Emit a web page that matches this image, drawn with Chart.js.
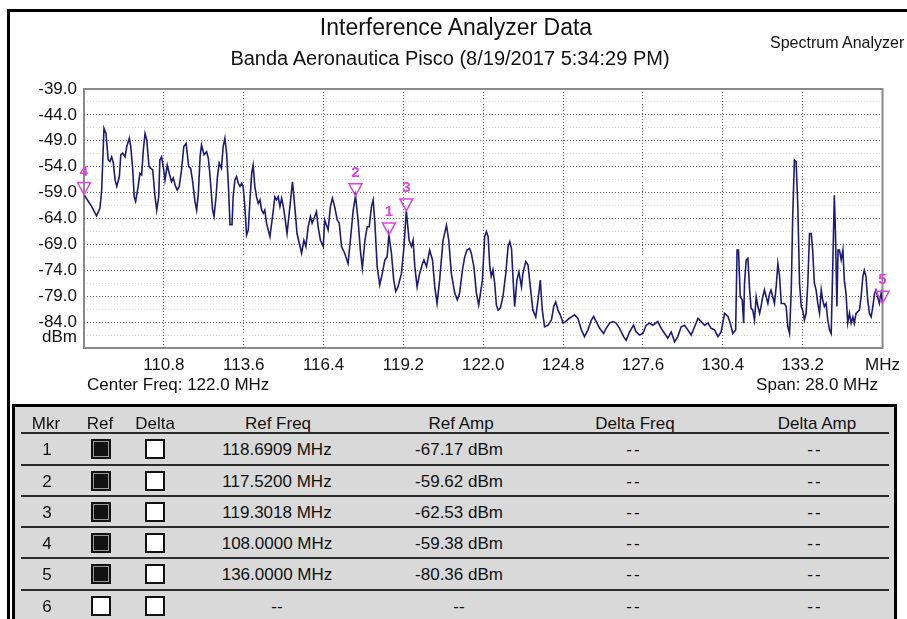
<!DOCTYPE html>
<html>
<head>
<meta charset="utf-8">
<script src="https://cdn.jsdelivr.net/npm/chart.js@4.4.1/dist/chart.umd.min.js"></script>
<style>
html,body{margin:0;padding:0;background:#fff;}
body{width:907px;height:619px;position:relative;overflow:hidden;font-family:"Liberation Sans",Arial,sans-serif;color:#111;}
#frame{position:absolute;left:7px;top:9px;width:940px;height:700px;border-left:3px solid #000;border-top:3px solid #000;}
#c{position:absolute;left:0;top:0;}
.txt{position:absolute;white-space:nowrap;line-height:1;}
.ctr{transform:translate(-50%,-50%);}
.mid{transform:translateY(-50%);}
#tbl{position:absolute;left:12px;top:404px;width:879px;height:260px;border:3px solid #000;background:#d9d9d9;}
.hline{position:absolute;height:2px;background:#2a2a2a;}
.cell{position:absolute;white-space:nowrap;line-height:1;transform:translate(-50%,-50%);font-size:17px;color:#111;}
.box{position:absolute;width:16px;height:16px;border:2px solid #111;background:#fff;transform:translate(-50%,-50%);}
.box.on{background:#111;box-shadow:inset 0 0 0 1px #9a9a9a;}
</style>
</head>
<body>
<div id="frame"></div>
<canvas id="c" width="907" height="400"></canvas>
<div class="txt ctr" style="left:456px;top:27px;font-size:23px;">Interference Analyzer Data</div>
<div class="txt ctr" style="left:450px;top:58px;font-size:20px;">Banda Aeronautica Pisco (8/19/2017 5:34:29 PM)</div>
<div class="txt mid" style="left:770px;top:43px;font-size:16px;">Spectrum Analyzer</div>
<div class="txt mid" style="right:830px;top:336px;font-size:17px;">dBm</div>
<div class="txt mid" style="left:87px;top:384px;font-size:17px;">Center Freq: 122.0 MHz</div>
<div class="txt mid" style="right:29px;top:384px;font-size:17px;">Span: 28.0 MHz</div>
<div id="tbl"></div>
<div id="cells"></div>
<script>
// ---- spectrum trace (MHz, dBm) ----
const traceFreq = [
108.00,108.27,108.44,108.56,108.62,108.70,108.77,108.85,108.91,108.97,109.03,109.09,109.15,109.24,109.29,109.36,109.44,109.50,109.59,109.64,
109.71,109.76,109.81,109.90,109.96,110.02,110.08,110.14,110.20,110.28,110.34,110.41,110.49,110.55,110.62,110.66,110.72,110.78,110.84,110.92,
110.99,111.07,111.13,111.21,111.27,111.34,111.42,111.50,111.58,111.62,111.67,111.74,111.81,111.89,111.95,112.01,112.07,112.12,112.21,112.30,
112.36,112.42,112.51,112.56,112.63,112.68,112.74,112.82,112.88,112.94,113.00,113.06,113.12,113.19,113.23,113.29,113.35,113.41,113.47,113.53,
113.58,113.64,113.70,113.76,113.82,113.88,113.93,113.99,114.05,114.11,114.17,114.23,114.29,114.34,114.40,114.46,114.52,114.58,114.64,114.69,
114.75,114.81,114.87,114.93,114.99,115.04,115.12,115.22,115.31,115.39,115.47,115.63,115.71,115.78,115.86,115.94,116.00,116.09,116.15,116.21,
116.29,116.39,116.44,116.56,116.64,116.71,116.79,116.88,116.95,117.03,117.14,117.26,117.34,117.44,117.52,117.61,117.69,117.76,117.85,117.93,
118.00,118.08,118.14,118.20,118.28,118.37,118.46,118.55,118.63,118.6909,118.78,118.86,118.93,119.01,119.13,119.21,119.3018,119.40,119.48,119.54,
119.60,119.68,119.77,119.87,119.92,120.01,120.12,120.22,120.30,120.38,120.47,120.59,120.71,120.79,120.88,121.00,121.09,121.17,121.27,121.35,
121.43,121.52,121.58,121.67,121.76,121.84,121.97,122.05,122.11,122.17,122.23,122.28,122.34,122.40,122.46,122.52,122.60,122.69,122.79,122.87,
122.93,122.99,123.04,123.10,123.18,123.25,123.34,123.39,123.49,123.57,123.65,123.74,123.84,123.92,124.00,124.07,124.15,124.27,124.39,124.47,
124.54,124.62,124.70,124.80,124.89,125.01,125.12,125.20,125.32,125.44,125.55,125.67,125.79,125.87,125.96,126.08,126.22,126.31,126.43,126.55,
126.66,126.78,126.92,127.01,127.13,127.27,127.36,127.48,127.60,127.71,127.83,127.95,128.12,128.24,128.36,128.47,128.59,128.71,128.82,128.94,
129.06,129.17,129.29,129.41,129.53,129.64,129.76,129.88,129.99,130.11,130.23,130.34,130.46,130.58,130.66,130.75,130.85,130.90,130.95,131.01,
131.08,131.13,131.16,131.22,131.28,131.34,131.39,131.45,131.51,131.57,131.63,131.69,131.74,131.80,131.86,131.92,131.98,132.04,132.09,132.15,
132.21,132.27,132.33,132.39,132.45,132.56,132.62,132.68,132.74,132.80,132.85,132.91,132.97,133.03,133.09,133.15,133.20,133.26,133.32,133.38,
133.44,133.50,133.55,133.61,133.67,133.73,133.79,133.85,133.90,133.96,134.02,134.08,134.14,134.20,134.26,134.31,134.35,134.40,134.44,134.49,
134.55,134.61,134.66,134.72,134.78,134.84,134.90,134.96,135.01,135.07,135.19,135.25,135.31,135.36,135.42,135.48,135.54,135.60,135.66,135.72,
135.77,135.83,135.89,135.95,136.00
];
const traceAmp = [
-59.4,-61.7,-63.5,-62.0,-58.5,-46.6,-47.6,-52.7,-53.0,-52.1,-53.3,-56.6,-57.8,-55.9,-51.7,-51.4,-52.1,-50.1,-48.5,-50.1,
-54.6,-59.8,-60.7,-57.8,-55.3,-55.6,-50.8,-47.6,-48.8,-54.0,-54.3,-54.6,-59.8,-62.4,-59.8,-52.7,-52.1,-54.0,-56.6,-53.7,
-55.3,-56.9,-56.2,-57.8,-58.5,-57.8,-54.6,-50.1,-49.5,-51.4,-54.0,-54.3,-56.9,-60.7,-62.4,-59.1,-52.1,-49.8,-51.7,-51.1,
-52.4,-55.9,-62.4,-63.6,-59.8,-55.9,-53.3,-54.3,-50.1,-48.5,-51.4,-57.2,-65.2,-65.2,-59.8,-56.6,-55.9,-57.2,-57.8,-57.2,
-57.8,-61.7,-67.2,-66.2,-60.4,-55.3,-53.7,-57.8,-59.8,-61.1,-60.4,-62.4,-63.0,-62.4,-64.9,-66.2,-67.5,-64.9,-62.4,-59.8,
-60.4,-59.8,-61.7,-60.1,-61.7,-63.6,-66.9,-61.7,-56.9,-61.7,-66.9,-70.7,-68.2,-69.4,-65.6,-63.6,-64.9,-63.6,-62.7,-65.6,
-68.2,-69.4,-64.3,-66.2,-61.7,-60.1,-61.7,-64.3,-64.9,-69.4,-70.7,-72.7,-68.2,-62.4,-59.62,-64.3,-70.1,-73.6,-68.2,-65.6,
-65.6,-61.7,-60.4,-64.9,-73.3,-76.8,-74.6,-72.0,-71.4,-67.17,-70.7,-75.9,-78.1,-77.2,-74.6,-70.1,-62.53,-68.2,-69.4,-68.2,
-73.3,-77.2,-74.6,-72.7,-72.0,-73.3,-70.1,-72.0,-77.2,-80.4,-75.9,-68.2,-65.3,-68.2,-74.6,-78.4,-79.7,-78.4,-73.9,-71.4,
-70.1,-69.8,-70.7,-73.3,-78.4,-80.7,-75.9,-67.5,-66.5,-67.5,-73.3,-75.2,-73.9,-76.5,-80.7,-81.7,-81.3,-79.1,-74.6,-69.4,
-68.5,-69.8,-75.2,-81.0,-75.9,-74.3,-77.2,-74.6,-72.3,-73.0,-77.2,-81.7,-83.0,-79.7,-75.9,-81.7,-84.9,-84.6,-83.6,-81.0,
-80.1,-81.7,-82.6,-84.2,-83.9,-83.3,-82.9,-82.6,-83.3,-85.5,-86.8,-85.5,-83.6,-82.9,-83.9,-85.2,-86.2,-85.2,-84.2,-83.9,
-84.2,-85.2,-86.8,-87.5,-85.9,-84.6,-85.9,-86.5,-86.2,-84.6,-84.2,-84.6,-83.9,-85.2,-86.2,-87.1,-85.9,-87.8,-86.8,-84.9,
-84.6,-85.5,-86.5,-84.9,-83.3,-83.9,-84.6,-84.2,-85.2,-85.5,-86.8,-85.9,-82.3,-82.9,-84.2,-86.2,-85.5,-70.1,-70.1,-79.1,
-79.7,-84.2,-76.5,-72.0,-71.7,-77.8,-81.3,-81.7,-83.6,-79.1,-81.0,-82.3,-81.0,-79.1,-77.8,-79.1,-80.4,-78.5,-77.8,-79.1,
-80.4,-77.2,-72.7,-75.2,-80.4,-80.4,-81.0,-84.9,-86.2,-77.8,-63.6,-52.7,-53.0,-61.7,-76.5,-81.0,-81.7,-83.6,-82.3,-76.5,
-66.9,-66.9,-70.1,-76.5,-77.8,-80.4,-82.3,-77.8,-79.7,-81.0,-80.4,-83.6,-85.5,-86.2,-72.0,-59.5,-66.9,-81.0,-70.1,-70.1,
-72.0,-70.1,-75.9,-78.5,-84.2,-82.3,-84.2,-83.0,-84.2,-82.3,-81.7,-79.1,-75.2,-74.0,-75.2,-79.7,-82.3,-83.0,-81.0,-78.5,
-77.8,-79.1,-80.4,-78.5,-80.36
];

// ---- markers ----
const markerIds   = ['1', '2', '3', '4', '5'];
const markerFreq  = [118.6909, 117.5200, 119.3018, 108.0000, 136.0000];
const markerAmp   = [-67.17, -59.62, -62.53, -59.38, -80.36];

// ---- axes ----
const xTickValues = [108, 110.8, 113.6, 116.4, 119.2, 122.0, 124.8, 127.6, 130.4, 133.2, 136];
const xTickLabels = ['', '110.8', '113.6', '116.4', '119.2', '122.0', '124.8', '127.6', '130.4', '133.2', 'MHz'];
const yTickValues = [-39, -44, -49, -54, -59, -64, -69, -74, -79, -84, -89];
const yTickLabels = ['-39.0', '-44.0', '-49.0', '-54.0', '-59.0', '-64.0', '-69.0', '-74.0', '-79.0', '-84.0', ''];
const yMinorValues = [-41.5, -46.5, -51.5, -56.5, -61.5, -66.5, -71.5, -76.5, -81.5, -86.5];

// ---- marker table ----
const tableHeaders = ['Mkr', 'Ref', 'Delta', 'Ref Freq', 'Ref Amp', 'Delta Freq', 'Delta Amp'];
const tableMkr      = ['1', '2', '3', '4', '5', '6'];
const tableRefOn    = [true, true, true, true, true, false];
const tableRefFreq  = ['118.6909 MHz', '117.5200 MHz', '119.3018 MHz', '108.0000 MHz', '136.0000 MHz', '--'];
const tableRefAmp   = ['-67.17 dBm', '-59.62 dBm', '-62.53 dBm', '-59.38 dBm', '-80.36 dBm', '--'];
const tableDeltaFreq= ['--', '--', '--', '--', '--', '--'];
const tableDeltaAmp = ['--', '--', '--', '--', '--', '--'];

const FONT = '"Liberation Sans", Arial, sans-serif';
const points = traceFreq.map((f, i) => ({x: f, y: traceAmp[i]}));
const yAll = yTickValues.concat(yMinorValues).sort((a, b) => b - a);
const isMajorY = v => yTickValues.some(t => Math.abs(t - v) < 1e-6);

const framePlugin = {
  id: 'frame',
  beforeDatasetsDraw(chart) {
    const a = chart.chartArea, c = chart.ctx;
    c.save();
    c.strokeStyle = '#8a8a8a';
    c.lineWidth = 2;
    c.strokeRect(a.left, a.top, a.right - a.left, a.bottom - a.top);
    c.restore();
  }
};

const markerPlugin = {
  id: 'markers',
  afterDatasetsDraw(chart) {
    const c = chart.ctx, xs = chart.scales.x, ys = chart.scales.y;
    c.save();
    c.strokeStyle = '#dd44dd';
    c.fillStyle = '#dd44dd';
    c.lineWidth = 1.5;
    c.font = 'bold 15px ' + FONT;
    c.textAlign = 'center';
    c.textBaseline = 'middle';
    markerIds.forEach((id, i) => {
      const px = xs.getPixelForValue(markerFreq[i]);
      const py = ys.getPixelForValue(markerAmp[i]);
      c.beginPath();
      c.moveTo(px, py);
      c.lineTo(px - 6.5, py - 12);
      c.lineTo(px + 6.5, py - 12);
      c.closePath();
      c.stroke();
      c.fillText(id, px, py - 23);
    });
    c.restore();
  }
};

new Chart(document.getElementById('c'), {
  type: 'scatter',
  data: {
    datasets: [{
      data: points,
      showLine: true,
      borderColor: '#1c1c78',
      borderWidth: 1.6,
      pointRadius: 0,
      tension: 0,
      fill: false
    }]
  },
  options: {
    responsive: false,
    animation: false,
    devicePixelRatio: 1,
    layout: {padding: {left: 0, right: 24, top: 89, bottom: 22}},
    plugins: {legend: {display: false}, tooltip: {enabled: false}, title: {display: false}},
    scales: {
      x: {
        type: 'linear', min: 108, max: 136,
        afterBuildTicks: s => { s.ticks = xTickValues.map(v => ({value: v})); },
        afterFit: s => { s.height = 30; },
        ticks: {
          autoSkip: false, maxRotation: 0, padding: 7, color: '#111',
          font: {family: FONT, size: 17},
          callback: (v) => { const i = xTickValues.findIndex(t => Math.abs(t - v) < 1e-6); return i >= 0 ? xTickLabels[i] : ''; }
        },
        grid: {color: '#666', lineWidth: 1, drawTicks: false},
        border: {display: false, dash: [1, 2]}
      },
      y: {
        type: 'linear', min: -89, max: -39,
        afterBuildTicks: s => { s.ticks = yAll.map(v => ({value: v})); },
        afterFit: s => { s.width = 84; },
        ticks: {
          autoSkip: false, padding: 7, color: '#111',
          font: {family: FONT, size: 17},
          callback: (v) => { const i = yTickValues.findIndex(t => Math.abs(t - v) < 1e-6); return i >= 0 ? yTickLabels[i] : ''; }
        },
        grid: {
          color: ctx => (ctx.tick && isMajorY(ctx.tick.value)) ? '#666' : '#dcdcdc',
          lineWidth: 1, drawTicks: false
        },
        border: {display: false, dash: [1, 2]}
      }
    }
  },
  plugins: [framePlugin, markerPlugin]
});

// ---- build table ----
(function () {
  const host = document.getElementById('cells');
  const colX = [47, 101, 155, 277, 459, 634, 815];
  const headX = [46, 100, 155, 278, 461, 635, 817];
  const headY = 423;
  const rowY = [449, 481, 512, 543, 574, 606];
  const lineY = [433, 465, 496, 527, 558, 590];
  let html = '';
  lineY.forEach(y => { html += `<div class="hline" style="left:21px;width:868px;top:${y - 1}px"></div>`; });
  tableHeaders.forEach((h, i) => { html += `<div class="cell" style="left:${headX[i]}px;top:${headY}px">${h}</div>`; });
  tableMkr.forEach((m, r) => {
    const y = rowY[r];
    html += `<div class="cell" style="left:${colX[0]}px;top:${y}px">${m}</div>`;
    html += `<div class="box${tableRefOn[r] ? ' on' : ''}" style="left:${colX[1]}px;top:${y}px"></div>`;
    html += `<div class="box" style="left:${colX[2]}px;top:${y}px"></div>`;
    html += `<div class="cell" style="left:${colX[3]}px;top:${y}px">${tableRefFreq[r]}</div>`;
    html += `<div class="cell" style="left:${colX[4]}px;top:${y}px">${tableRefAmp[r]}</div>`;
    html += `<div class="cell" style="left:${colX[5]}px;top:${y}px;letter-spacing:2px">${tableDeltaFreq[r]}</div>`;
    html += `<div class="cell" style="left:${colX[6]}px;top:${y}px;letter-spacing:2px">${tableDeltaAmp[r]}</div>`;
  });
  host.innerHTML = html;
})();
</script>
</body>
</html>
